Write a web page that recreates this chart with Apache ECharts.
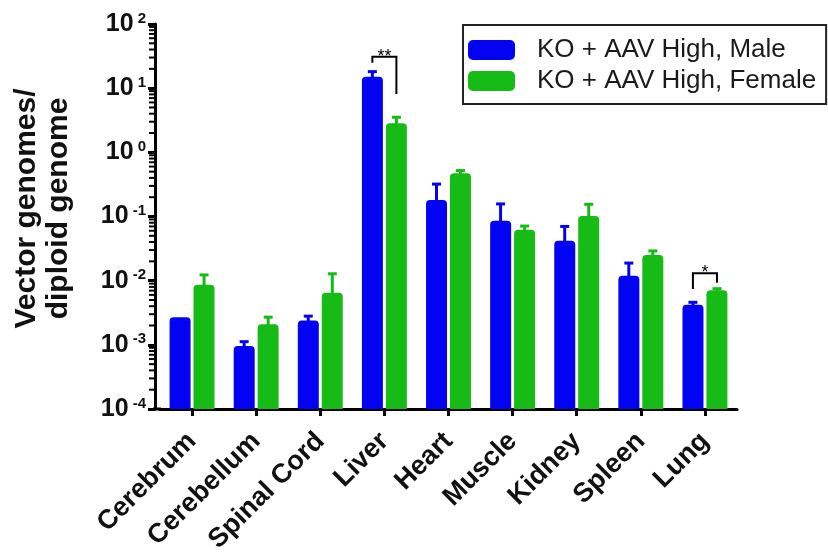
<!DOCTYPE html>
<html>
<head>
<meta charset="utf-8">
<script src="https://cdn.jsdelivr.net/npm/echarts@6/dist/echarts.min.js"></script>
<style>
  html, body { margin: 0; padding: 0; background: #ffffff; }
  #chart { width: 828px; height: 552px; }
</style>
</head>
<body>
<div id="chart"></div>
<script>
// Tissue biodistribution of vector genomes (log scale), mean with upper error bar
const categories = ['Cerebrum', 'Cerebellum', 'Spinal Cord', 'Liver', 'Heart', 'Muscle', 'Kidney', 'Spleen', 'Lung'];

const seriesNames = ['KO + AAV High, Male', 'KO + AAV High, Female'];

const maleMean   = [0.0027, 0.00096, 0.0024, 15.1, 0.18, 0.086, 0.042, 0.0119, 0.0042];
const maleUpper  = [0.0027, 0.00112, 0.0028, 18.1, 0.32, 0.157, 0.070, 0.0188, 0.0046];
const femaleMean = [0.0086, 0.0021, 0.0065, 2.84, 0.47, 0.062, 0.102, 0.0252, 0.0071];
const femaleUpper= [0.0123, 0.0027, 0.0128, 3.52, 0.52, 0.071, 0.155, 0.0291, 0.0075];

// significance brackets: [category index, bracket top, male leg end, female leg end]
const brackets = [[3, 31, 25, 8.1], [8, 0.0131, 0.0074, 0.0093]];
const bracketLabels = ['**', '*'];

// log axis ticks
const yMin = 1e-4, yMax = 100;
const minorTickValues = [];
for (let e = -4; e < 2; e++) {
  for (let k = 2; k <= 9; k++) minorTickValues.push(k * Math.pow(10, e));
}

const FONT = "'Liberation Sans', Arial, Helvetica, sans-serif";
const BLUE = '#0303f4';
const GREEN = '#16bb16';
const Y_OFFSET = 5;

function groupOffset(api, side) {
  const band = api.size([1, 0])[0];
  return side * band * 12 / 64;
}

function errorSeries(means, uppers, side, color) {
  return {
    type: 'custom',
    silent: true,
    z: 3,
    data: means.map((m, i) => [i, m, uppers[i]]),
    encode: { x: 0, y: [1, 2] },
    renderItem: function (params, api) {
      const i = api.value(0), m = api.value(1), u = api.value(2);
      if (!(u > m)) return null;
      const off = groupOffset(api, side);
      const base = api.coord([i, m]);
      const top = api.coord([i, u]);
      const x = base[0] + off;
      return {
        type: 'group',
        children: [
          { type: 'line', shape: { x1: x, y1: base[1] + 2, x2: x, y2: top[1] }, style: { stroke: color, lineWidth: 3 } },
          { type: 'line', shape: { x1: x - 4.5, y1: top[1], x2: x + 4.5, y2: top[1] }, style: { stroke: color, lineWidth: 3 } }
        ]
      };
    }
  };
}

const chart = echarts.init(document.getElementById('chart'), null, { renderer: 'canvas' });

chart.setOption({
  backgroundColor: '#ffffff',
  animation: false,
  textStyle: { fontFamily: FONT },
  grid: { left: 160, right: 91, top: 24, bottom: 143, containLabel: false, outerBoundsMode: 'none' },
  legend: {
    data: seriesNames,
    orient: 'vertical',
    left: 463,
    top: 25,
    padding: [12, 10, 10, 5],
    borderColor: '#222',
    borderWidth: 2,
    itemWidth: 47,
    itemHeight: 20,
    itemGap: 5,
    icon: 'roundRect',
    textStyle: { fontFamily: FONT, fontSize: 26, lineHeight: 26, color: '#1a1a1a', padding: [0, 0, 0, 17] }
  },
  xAxis: {
    type: 'category',
    data: categories,
    axisLine: { show: true, lineStyle: { color: '#000', width: 3 } },
    axisTick: { show: true, alignWithLabel: true, length: 7, lineStyle: { color: '#000', width: 3 } },
    axisLabel: {
      interval: 0,
      rotate: 45,
      margin: 28,
      fontFamily: FONT,
      fontSize: 27,
      fontWeight: 'bold',
      color: '#111'
    },
    splitLine: { show: false }
  },
  yAxis: {
    type: 'log',
    logBase: 10,
    min: yMin,
    max: yMax,
    startValue: yMin,
    splitNumber: 6,
    offset: Y_OFFSET,
    name: 'Vector genomes/\ndiploid genome',
    nameLocation: 'middle',
    nameGap: 80,
    nameMoveOverlap: false,
    nameTextStyle: {
      fontFamily: FONT, fontSize: 30, fontWeight: 'bold', lineHeight: 32, color: '#111',
      padding: [0, 0, 0, 16]
    },
    axisLine: { show: true, lineStyle: { color: '#000', width: 3 } },
    axisTick: { show: true, length: 7, lineStyle: { color: '#000', width: 3 } },
    minorTick: { show: false },
    splitLine: { show: false },
    axisLabel: {
      margin: 9,
      formatter: function (v) {
        const e = Math.round(Math.log10(v));
        return '{b|10}{s|' + e + '}';
      },
      rich: {
        b: { fontFamily: FONT, fontSize: 25, fontWeight: 'bold', color: '#111', lineHeight: 26 },
        s: { fontFamily: FONT, fontSize: 15, fontWeight: 'bold', color: '#111', verticalAlign: 'top', lineHeight: 15, padding: [0, 0, 0, 4] }
      }
    }
  },
  graphic: [
    { type: 'line', shape: { x1: 153, y1: 409, x2: 161, y2: 409 }, style: { stroke: '#000', lineWidth: 3 }, z: 10 }
  ],
  series: [
    {
      name: seriesNames[0],
      type: 'bar',
      data: maleMean,
      barWidth: 21,
      barGap: '14%',
      itemStyle: { color: BLUE, borderRadius: [4, 4, 0, 0] },
      z: 2
    },
    {
      name: seriesNames[1],
      type: 'bar',
      data: femaleMean,
      barWidth: 21,
      barGap: '14%',
      itemStyle: { color: GREEN, borderRadius: [4, 4, 0, 0] },
      z: 2
    },
    errorSeries(maleMean, maleUpper, -1, BLUE),
    errorSeries(femaleMean, femaleUpper, 1, GREEN),
    {
      // log-spaced minor ticks on the value axis
      type: 'custom',
      silent: true,
      z: 4,
      data: minorTickValues.map(v => [0, v]),
      encode: { x: 0, y: 1 },
      renderItem: function (params, api) {
        const y = api.coord([0, api.value(1)])[1];
        const x0 = params.coordSys.x - Y_OFFSET;
        return { type: 'line', shape: { x1: x0 - 6, y1: y, x2: x0, y2: y }, style: { stroke: '#000', lineWidth: 2 } };
      }
    },
    {
      // significance brackets
      type: 'custom',
      silent: true,
      z: 5,
      data: brackets,
      encode: { x: 0, y: [1, 2, 3] },
      renderItem: function (params, api) {
        const i = api.value(0);
        const topPt = api.coord([i, api.value(1)]);
        const yL = api.coord([i, api.value(2)])[1];
        const yR = api.coord([i, api.value(3)])[1];
        const xL = topPt[0] + groupOffset(api, -1);
        const xR = topPt[0] + groupOffset(api, 1);
        const yT = topPt[1];
        return {
          type: 'group',
          children: [
            { type: 'polyline', shape: { points: [[xL, yL], [xL, yT], [xR, yT], [xR, yR]] }, style: { stroke: '#000', lineWidth: 2, fill: null } },
            { type: 'text', x: topPt[0], y: yT, style: { text: bracketLabels[params.dataIndex], align: 'center', verticalAlign: 'middle', font: '18px ' + FONT, fill: '#000' } }
          ]
        };
      }
    }
  ]
});
</script>
</body>
</html>
